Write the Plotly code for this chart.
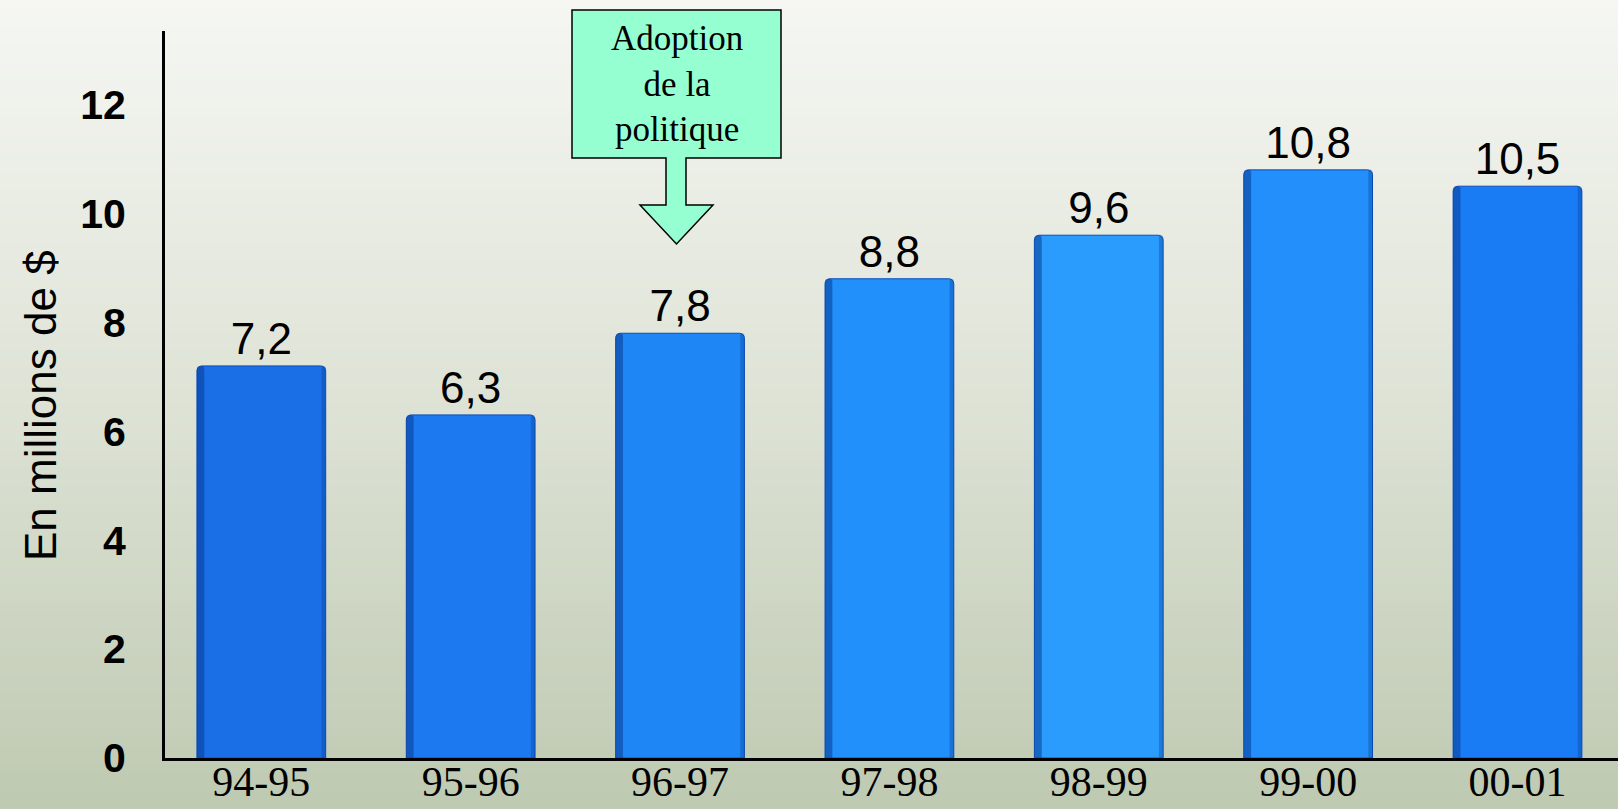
import plotly.graph_objects as go

# ---- data ----
categories = ["94-95", "95-96", "96-97", "97-98", "98-99", "99-00", "00-01"]
values = [7.2, 6.3, 7.8, 8.8, 9.6, 10.8, 10.5]
y_ticks = [0, 2, 4, 6, 8, 10, 12]
y_title = "En millions de $"
callout_text = "Adoption<br>de la<br>politique"

bar_colors = ["#1A6FE6", "#1C79F0", "#1F86F6", "#2290FA", "#2A9CFE", "#228FFA", "#1A7CF5"]

# ---- layout geometry (pixels) ----
W, H = 1618, 809
L, R, T, B = 165, 0, 31, 51
PW, PH = W - L - R, H - T - B
BAR_W = 0.615

def px(xp):
    return (xp - L) / PW

def py(yp):
    return (H - B - yp) / PH

fig = go.Figure()

fig.add_trace(go.Bar(
    x=categories, y=values,
    width=BAR_W,
    marker=dict(color=bar_colors, line=dict(color="#0B4FB8", width=1), cornerradius=5),
    text=values, texttemplate="%{y:.1f}", textposition="outside",
    textfont=dict(family="Liberation Sans, Arial", size=44, color="black"),
    cliponaxis=False,
    hoverinfo="skip",
))
# darker left edge shading on the same bars (3D look)
fig.add_trace(go.Bar(
    x=categories, y=values,
    width=0.035, offset=-BAR_W / 2,
    marker=dict(color="rgba(8,60,150,0.55)", line=dict(width=0), cornerradius=3),
    hoverinfo="skip",
))
# slight right edge shading
fig.add_trace(go.Bar(
    x=categories, y=values,
    width=0.02, offset=BAR_W / 2 - 0.02,
    marker=dict(color="rgba(8,60,150,0.35)", line=dict(width=0), cornerradius=2),
    hoverinfo="skip",
))

# background gradient (decorative)
shapes = []
n = 90
top_c = (246, 247, 243)
mid_c = (222, 227, 214)
bot_c = (191, 202, 178)
for i in range(n):
    f = i / (n - 1)
    if f < 0.5:
        g = f / 0.5
        c = tuple(int(top_c[k] + (mid_c[k] - top_c[k]) * g) for k in range(3))
    else:
        g = (f - 0.5) / 0.5
        c = tuple(int(mid_c[k] + (bot_c[k] - mid_c[k]) * g) for k in range(3))
    y0 = i * H / n
    y1 = (i + 1) * H / n + 1
    shapes.append(dict(type="rect", xref="paper", yref="paper", layer="below",
                       x0=px(-2), x1=px(W + 2), y0=py(y1), y1=py(y0 - (2 if i == 0 else 0)),
                       fillcolor="rgb(%d,%d,%d)" % c, line=dict(width=0)))

# callout box with down arrow (decorative)
pts = [(572, 10), (781, 10), (781, 158), (686, 158), (686, 205), (713, 205),
       (676.5, 244), (640, 205), (666, 205), (666, 158), (572, 158)]
path = "M " + " L ".join("%f,%f" % (px(a), py(b)) for a, b in pts) + " Z"
shapes.append(dict(type="path", xref="paper", yref="paper", path=path,
                   fillcolor="#96FFD2", line=dict(color="black", width=1.5), layer="above"))

annotations = [
    dict(xref="paper", yref="paper", x=px(676.5), y=py(84), text=callout_text,
         showarrow=False, xanchor="center", yanchor="middle",
         font=dict(family="Liberation Serif, Times New Roman", size=35, color="black")),
    dict(xref="paper", yref="paper", x=px(40), y=py(405), text=y_title, textangle=-90,
         showarrow=False, xanchor="center", yanchor="middle",
         font=dict(family="Liberation Sans, Arial", size=44, color="black")),
]

fig.update_layout(
    width=W, height=H, autosize=False,
    margin=dict(l=L, r=R, t=T, b=B, pad=0, autoexpand=False),
    paper_bgcolor="rgb(191,202,178)", plot_bgcolor="rgba(0,0,0,0)",
    separators=", ",
    showlegend=False,
    barmode="overlay",
    shapes=shapes,
    annotations=annotations,
    xaxis=dict(
        type="category", range=[-0.46, 6.48],
        showline=True, linecolor="black", linewidth=3,
        showgrid=False, zeroline=False, ticks="",
        tickfont=dict(family="Liberation Serif, Times New Roman", size=42, color="black"),
        ticklabelstandoff=-15,
        automargin=False,
        fixedrange=True,
    ),
    yaxis=dict(
        range=[0, 13.35], tickvals=y_ticks,
        showline=True, linecolor="black", linewidth=3,
        showgrid=False, zeroline=False, ticks="",
        tickfont=dict(family="Liberation Sans, Arial", size=41, color="black", weight="bold"),
        ticklabelstandoff=28,
        automargin=False,
        fixedrange=True,
    ),
)

fig.write_html(
    "out.html",
    config={"displayModeBar": False},
    post_script="document.body.style.margin='0';document.body.style.padding='0';document.body.style.overflow='hidden';",
)
